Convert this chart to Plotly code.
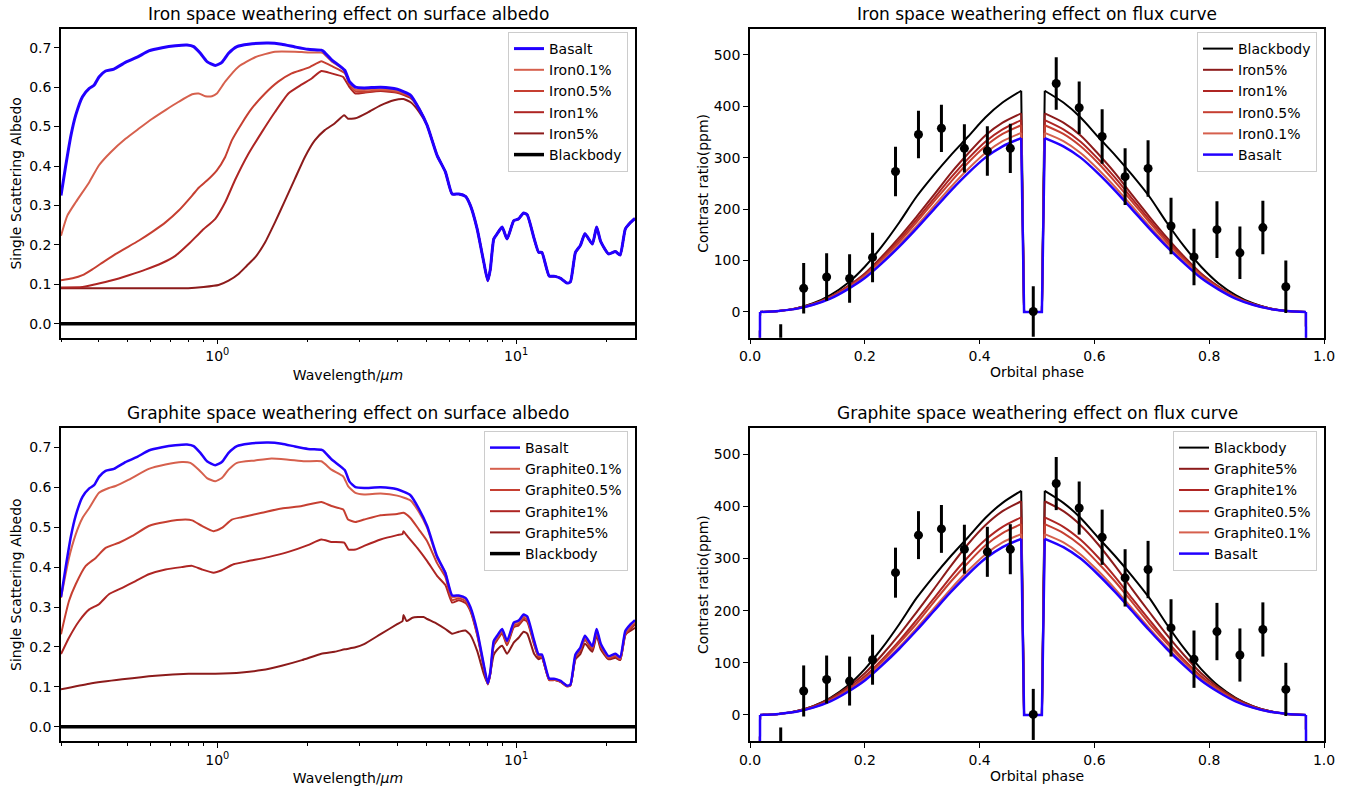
import math
import plotly.graph_objects as go

FONT = "DejaVu Sans"
W, H = 1361, 790

# ---------------- albedo data (wavelength in micron) ----------------
basalt_vis_wl = [0.30, 0.311, 0.324, 0.336, 0.354, 0.373, 0.387, 0.402, 0.423, 0.451, 0.493, 0.540, 0.590,
                 0.654, 0.724, 0.792, 0.834, 0.878, 0.924, 0.985, 1.036, 1.091, 1.164, 1.272, 1.482, 1.643,
                 1.82, 2.01, 2.23, 2.26, 2.41, 2.67, 2.77, 2.90, 3.10, 3.52, 4.00, 4.43, 4.73]
basalt_vis = [0.325, 0.400, 0.478, 0.529, 0.576, 0.597, 0.605, 0.626, 0.641, 0.646, 0.663, 0.676, 0.692,
              0.700, 0.705, 0.707, 0.703, 0.686, 0.665, 0.655, 0.663, 0.686, 0.703, 0.709, 0.712, 0.709,
              0.702, 0.696, 0.694, 0.692, 0.670, 0.643, 0.614, 0.600, 0.598, 0.600, 0.595, 0.580, 0.546]

wl_ir = [5.04, 5.44, 5.80, 6.11, 6.43, 6.77, 7.03, 7.41, 7.80, 8.04, 8.20, 8.42, 8.64, 8.98, 9.33, 9.82,
         10.2, 10.6, 10.9, 11.5, 11.9, 12.2, 12.9, 13.5, 14.1, 14.8, 15.2, 15.8, 16.4, 17.0, 18.0, 18.6,
         19.2, 20.4, 21.5, 22.3, 23.2, 24.1, 25.0]
basalt_ir = [0.503, 0.427, 0.385, 0.329, 0.329, 0.323, 0.300, 0.240, 0.155, 0.109, 0.138, 0.215, 0.228,
             0.245, 0.215, 0.261, 0.266, 0.281, 0.276, 0.215, 0.181, 0.181, 0.121, 0.120, 0.115, 0.103,
             0.106, 0.181, 0.198, 0.228, 0.202, 0.245, 0.208, 0.177, 0.183, 0.174, 0.240, 0.256, 0.267]

iron01_wl = [0.30, 0.315, 0.336, 0.373, 0.402, 0.440, 0.493, 0.547, 0.606, 0.671, 0.743, 0.824, 0.867,
             0.912, 0.960, 0.997, 1.063, 1.178, 1.339, 1.56, 1.82, 2.01, 2.23, 2.26, 2.41, 2.67, 2.77,
             2.90, 3.10, 3.52, 4.00, 4.43, 4.73]
iron01_alb = [0.223, 0.274, 0.308, 0.359, 0.402, 0.435, 0.469, 0.495, 0.520, 0.542, 0.563, 0.582, 0.584,
              0.577, 0.577, 0.584, 0.614, 0.652, 0.676, 0.690, 0.690, 0.688, 0.688, 0.686, 0.666, 0.642,
              0.612, 0.594, 0.593, 0.595, 0.591, 0.578, 0.546]

iron05_wl = [0.30, 0.328, 0.354, 0.382, 0.413, 0.451, 0.493, 0.547, 0.606, 0.671, 0.743, 0.824, 0.867,
             0.924, 0.997, 1.063, 1.119, 1.208, 1.305, 1.445, 1.60, 1.774, 2.01, 2.23, 2.26, 2.41, 2.67,
             2.77, 2.90, 3.10, 3.52, 4.00, 4.43, 4.73]
iron05_alb = [0.110, 0.115, 0.123, 0.138, 0.155, 0.174, 0.191, 0.211, 0.233, 0.257, 0.287, 0.325, 0.345,
              0.363, 0.389, 0.423, 0.465, 0.508, 0.546, 0.584, 0.614, 0.635, 0.649, 0.666, 0.664, 0.654,
              0.636, 0.608, 0.590, 0.588, 0.593, 0.588, 0.576, 0.546]

iron1_wl = [0.30, 0.354, 0.392, 0.445, 0.506, 0.575, 0.654, 0.724, 0.802, 0.889, 0.985, 1.063, 1.148,
            1.272, 1.41, 1.56, 1.73, 1.92, 2.07, 2.23, 2.41, 2.64, 2.67, 2.77, 2.90, 3.10, 3.52, 4.00,
            4.43, 4.73]
iron1_alb = [0.092, 0.093, 0.100, 0.110, 0.123, 0.137, 0.154, 0.172, 0.202, 0.236, 0.266, 0.308, 0.365,
             0.431, 0.486, 0.537, 0.584, 0.607, 0.622, 0.641, 0.635, 0.626, 0.620, 0.600, 0.584, 0.586,
             0.590, 0.586, 0.573, 0.546]

iron5_wl = [0.30, 0.50, 0.80, 0.90, 1.01, 1.091, 1.178, 1.256, 1.339, 1.445, 1.56, 1.685, 1.82, 1.965,
            2.12, 2.29, 2.47, 2.66, 2.74, 2.90, 3.19, 3.52, 3.90, 4.20, 4.45, 4.73]
iron5_alb = [0.090, 0.090, 0.090, 0.093, 0.098, 0.109, 0.126, 0.147, 0.168, 0.206, 0.257, 0.312, 0.368,
             0.423, 0.465, 0.491, 0.508, 0.529, 0.520, 0.521, 0.536, 0.554, 0.567, 0.570, 0.561, 0.538]

gr01_wl = [0.30, 0.319, 0.336, 0.354, 0.373, 0.402, 0.434, 0.457, 0.506, 0.590, 0.671, 0.762, 0.813,
           0.867, 0.924, 0.985, 1.036, 1.091, 1.164, 1.339, 1.52, 1.73, 1.965, 2.23, 2.41, 2.64, 2.74,
           2.90, 3.10, 3.52, 4.00, 4.43, 4.73]
gr01_alb = [0.323, 0.423, 0.482, 0.523, 0.548, 0.586, 0.598, 0.603, 0.619, 0.646, 0.657, 0.663, 0.661,
            0.644, 0.623, 0.615, 0.623, 0.644, 0.661, 0.667, 0.672, 0.669, 0.665, 0.665, 0.644, 0.627,
            0.603, 0.586, 0.582, 0.584, 0.579, 0.567, 0.538]
gr01_ir = [0.498, 0.423, 0.386, 0.325, 0.326, 0.320, 0.297, 0.237, 0.153, 0.108, 0.136, 0.212, 0.225,
           0.242, 0.212, 0.258, 0.263, 0.278, 0.273, 0.212, 0.179, 0.179, 0.120, 0.119, 0.114, 0.102,
           0.105, 0.179, 0.196, 0.225, 0.200, 0.242, 0.206, 0.175, 0.181, 0.172, 0.237, 0.253, 0.264]

gr05_wl = [0.30, 0.319, 0.336, 0.363, 0.392, 0.423, 0.469, 0.520, 0.590, 0.671, 0.782, 0.824, 0.889,
           0.972, 1.036, 1.119, 1.208, 1.41, 1.643, 1.92, 2.23, 2.41, 2.64, 2.74, 2.90, 3.10, 3.52, 4.00,
           4.20, 4.43, 4.73]
gr05_alb = [0.232, 0.315, 0.357, 0.403, 0.423, 0.448, 0.461, 0.478, 0.503, 0.513, 0.519, 0.517, 0.503,
            0.490, 0.498, 0.519, 0.525, 0.536, 0.547, 0.553, 0.563, 0.553, 0.544, 0.519, 0.513, 0.519,
            0.530, 0.533, 0.536, 0.523, 0.494]
gr05_ir = [0.465, 0.410, 0.375, 0.317, 0.322, 0.315, 0.293, 0.233, 0.150, 0.107, 0.134, 0.208, 0.221,
           0.238, 0.208, 0.253, 0.258, 0.273, 0.268, 0.208, 0.176, 0.176, 0.118, 0.118, 0.113, 0.102,
           0.104, 0.176, 0.193, 0.221, 0.196, 0.237, 0.202, 0.172, 0.178, 0.169, 0.232, 0.248, 0.259]

gr1_wl = [0.30, 0.319, 0.345, 0.373, 0.402, 0.434, 0.481, 0.533, 0.590, 0.671, 0.762, 0.824, 0.889,
          0.972, 1.036, 1.134, 1.272, 1.482, 1.73, 2.01, 2.23, 2.41, 2.66, 2.75, 2.90, 3.10, 3.52, 4.00,
          4.17, 4.20, 4.30, 4.67]
gr1_alb = [0.182, 0.223, 0.265, 0.294, 0.307, 0.332, 0.348, 0.365, 0.382, 0.394, 0.400, 0.403, 0.394,
           0.386, 0.392, 0.407, 0.415, 0.425, 0.438, 0.455, 0.469, 0.463, 0.461, 0.444, 0.444, 0.453,
           0.469, 0.480, 0.483, 0.490, 0.480, 0.448]
gr1_ir = [0.415, 0.378, 0.355, 0.311, 0.317, 0.310, 0.290, 0.230, 0.148, 0.106, 0.132, 0.204, 0.217,
          0.234, 0.204, 0.249, 0.254, 0.268, 0.263, 0.205, 0.174, 0.174, 0.117, 0.117, 0.112, 0.101,
          0.103, 0.174, 0.190, 0.218, 0.193, 0.234, 0.199, 0.170, 0.176, 0.167, 0.229, 0.245, 0.256]

gr5_wl = [0.30, 0.373, 0.481, 0.621, 0.802, 0.985, 1.208, 1.41, 1.643, 1.92, 2.23, 2.47, 2.67, 2.90,
          3.10, 3.52, 4.00, 4.17, 4.20, 4.30, 4.50, 4.90]
gr5_alb = [0.094, 0.108, 0.119, 0.128, 0.133, 0.133, 0.136, 0.142, 0.153, 0.167, 0.183, 0.188, 0.194,
           0.199, 0.207, 0.232, 0.257, 0.265, 0.280, 0.265, 0.273, 0.275]
gr5_ir = [0.270, 0.258, 0.245, 0.233, 0.238, 0.241, 0.230, 0.190, 0.132, 0.108, 0.135, 0.180, 0.193,
          0.203, 0.183, 0.211, 0.223, 0.238, 0.233, 0.182, 0.169, 0.173, 0.119, 0.117, 0.113, 0.103,
          0.105, 0.169, 0.182, 0.208, 0.188, 0.229, 0.194, 0.169, 0.173, 0.167, 0.232, 0.240, 0.248]

bb_wl = [0.30, 25.0]
bb_alb = [0.0, 0.0]

# ---------------- flux-curve data (orbital phase, ppm) ----------------
phase_model = [0.0165, 0.0175, 0.05, 0.08, 0.11, 0.14, 0.17, 0.20, 0.23, 0.26, 0.29, 0.32, 0.35, 0.38,
               0.41, 0.44, 0.4725, 0.4775, 0.5085, 0.5135, 0.546, 0.576, 0.606, 0.636, 0.666, 0.696,
               0.726, 0.756, 0.786, 0.816, 0.846, 0.876, 0.906, 0.936, 0.9685, 0.9695]
basalt_flux = [-300, 0, 2, 6, 14, 26, 44, 66, 95, 127, 162, 199, 236, 270, 300, 322, 338, 0,
               0, 338, 322, 300, 270, 236, 199, 162, 127, 95, 66, 44, 26, 14, 6, 2, 0, -300]
bb_flux = [-300, 0, 2, 7, 17, 33, 56, 88, 128, 174, 224, 266, 305, 341, 378, 407, 430, 0,
           0, 430, 407, 378, 341, 305, 266, 224, 174, 128, 88, 56, 33, 17, 7, 2, 0, -300]
iron5_flux = [-300, 0, 2, 7, 16, 30, 50, 75, 108, 145, 185, 227, 270, 308, 343, 368, 386, 0,
              0, 386, 368, 343, 308, 270, 227, 185, 145, 108, 75, 50, 30, 16, 7, 2, 0, -300]
iron1_flux = [-300, 0, 2, 7, 15, 29, 49, 73, 105, 140, 179, 220, 261, 298, 331, 355, 373, 0,
              0, 373, 355, 331, 298, 261, 220, 179, 140, 105, 73, 49, 29, 15, 7, 2, 0, -300]
iron05_flux = [-300, 0, 2, 6, 15, 28, 47, 71, 102, 136, 174, 214, 253, 290, 322, 346, 363, 0,
               0, 363, 346, 322, 290, 253, 214, 174, 136, 102, 71, 47, 28, 15, 6, 2, 0, -300]
iron01_flux = [-300, 0, 2, 6, 14, 27, 45, 68, 98, 131, 167, 205, 243, 278, 309, 332, 348, 0,
               0, 348, 332, 309, 278, 243, 205, 167, 131, 98, 68, 45, 27, 14, 6, 2, 0, -300]
gr5_flux = [-300, 0, 2, 7, 17, 32, 53, 80, 115, 154, 197, 241, 286, 328, 364, 391, 410, 0,
            0, 410, 391, 364, 328, 286, 241, 197, 154, 115, 80, 53, 32, 17, 7, 2, 0, -300]
gr1_flux = [-300, 0, 2, 7, 16, 29, 49, 74, 106, 142, 182, 223, 265, 303, 336, 361, 379, 0,
            0, 379, 361, 336, 303, 265, 223, 182, 142, 106, 74, 49, 29, 16, 7, 2, 0, -300]
gr05_flux = [-300, 0, 2, 6, 15, 28, 48, 71, 103, 138, 175, 216, 256, 292, 325, 349, 366, 0,
             0, 366, 349, 325, 292, 256, 216, 175, 138, 103, 71, 48, 28, 15, 6, 2, 0, -300]
gr01_flux = [-300, 0, 2, 6, 14, 27, 45, 68, 98, 130, 166, 204, 242, 277, 308, 331, 347, 0,
             0, 347, 331, 308, 277, 242, 204, 166, 130, 98, 68, 45, 27, 14, 6, 2, 0, -300]

obs_phase = [0.0535, 0.0935, 0.1335, 0.1735, 0.2135, 0.2535, 0.2935, 0.3335, 0.3735, 0.4135, 0.4535,
             0.4935, 0.5335, 0.5735, 0.6135, 0.6535, 0.6935, 0.7335, 0.7735, 0.8135, 0.8535, 0.8935,
             0.9335]
obs_ppm = [-72, 46, 68, 65, 106, 273, 345, 357, 318, 313, 318, 1, 444, 397, 341, 263, 279, 167, 107,
           160, 115, 164, 49]
obs_err = [48, 49, 46, 47, 48, 48, 46, 46, 47, 48, 48, 49, 51, 51, 53, 55, 55, 55, 55, 55, 51, 52, 51]

# ---------------- tick labels ----------------
log_tick_vals = [1, 10]
log_tick_text = ["10<sup>0</sup>", "10<sup>1</sup>"]
log_minor_vals = [0.3, 0.4, 0.5, 0.6, 0.7, 0.8, 0.9, 2, 3, 4, 5, 6, 7, 8, 9, 20]

titles = ["Iron space weathering effect on surface albedo",
          "Iron space weathering effect on flux curve",
          "Graphite space weathering effect on surface albedo",
          "Graphite space weathering effect on flux curve"]

# ---------------- styles ----------------
C_BASALT = "#2200ff"
C_01 = "#d6604d"
C_05 = "#c63f31"
C_1 = "#ae2523"
C_5 = "#8c1b1b"
C_BB = "#000000"

XL = [61 / W, 635 / W]
XR = [750 / W, 1324 / W]
YT = [1 - 337.7 / H, 1 - 29 / H]
YB = [1 - 741 / H, 1 - 428.3 / H]

fig = go.Figure()


def line(x, y, name, color, width, xa, ya, leg, rank, smooth=True):
    shape = dict(shape="spline", smoothing=0.5) if smooth else {}
    fig.add_trace(go.Scatter(x=x, y=y, name=name, mode="lines",
                             line=dict(color=color, width=width, **shape),
                             xaxis=xa, yaxis=ya, legend=leg, legendrank=rank))


def flux(y, name, color, width, xa, ya, leg, rank):
    """Phase curve: smooth rise, sharp transit/eclipse edges, smooth decline."""
    grp = f"{leg}-{name}"
    rise = slice(1, 17)
    fall = slice(19, 35)
    fig.add_trace(go.Scatter(x=phase_model[rise], y=y[rise], name=name, mode="lines",
                             line=dict(color=color, width=width, shape="spline", smoothing=0.8),
                             xaxis=xa, yaxis=ya, legend=leg, legendrank=rank, legendgroup=grp))
    edges_x = phase_model[0:2] + [None] + phase_model[16:20] + [None] + phase_model[34:36]
    edges_y = y[0:2] + [None] + y[16:20] + [None] + y[34:36]
    fig.add_trace(go.Scatter(x=edges_x, y=edges_y, name=name, mode="lines", showlegend=False,
                             line=dict(color=color, width=width), connectgaps=False,
                             xaxis=xa, yaxis=ya, legend=leg, legendgroup=grp))
    fig.add_trace(go.Scatter(x=phase_model[fall], y=y[fall], name=name, mode="lines", showlegend=False,
                             line=dict(color=color, width=width, shape="spline", smoothing=0.8),
                             xaxis=xa, yaxis=ya, legend=leg, legendgroup=grp))


# --- top-left: iron albedo (reds first, basalt on top)
line(iron5_wl + wl_ir, iron5_alb + basalt_ir, "Iron5%", C_5, 2, "x", "y", "legend", 5)
line(iron1_wl + wl_ir, iron1_alb + basalt_ir, "Iron1%", C_1, 2, "x", "y", "legend", 4)
line(iron05_wl + wl_ir, iron05_alb + basalt_ir, "Iron0.5%", C_05, 2, "x", "y", "legend", 3)
line(iron01_wl + wl_ir, iron01_alb + basalt_ir, "Iron0.1%", C_01, 2, "x", "y", "legend", 2)
line(bb_wl, bb_alb, "Blackbody", C_BB, 3.5, "x", "y", "legend", 6, smooth=False)
line(basalt_vis_wl + wl_ir, basalt_vis + basalt_ir, "Basalt", C_BASALT, 3, "x", "y", "legend", 1)

# --- bottom-left: graphite albedo
line(gr5_wl + wl_ir, gr5_alb + gr5_ir, "Graphite5%", C_5, 2, "x3", "y3", "legend3", 5)
line(gr1_wl + wl_ir, gr1_alb + gr1_ir, "Graphite1%", C_1, 2, "x3", "y3", "legend3", 4)
line(gr05_wl + wl_ir, gr05_alb + gr05_ir, "Graphite0.5%", C_05, 2, "x3", "y3", "legend3", 3)
line(gr01_wl + wl_ir, gr01_alb + gr01_ir, "Graphite0.1%", C_01, 2, "x3", "y3", "legend3", 2)
line(bb_wl, bb_alb, "Blackbody", C_BB, 3.5, "x3", "y3", "legend3", 6, smooth=False)
line(basalt_vis_wl + wl_ir, basalt_vis + basalt_ir, "Basalt", C_BASALT, 2.5, "x3", "y3", "legend3", 1)

# --- top-right: iron flux curves
flux(bb_flux, "Blackbody", C_BB, 2, "x2", "y2", "legend2", 1)
flux(iron5_flux, "Iron5%", C_5, 2, "x2", "y2", "legend2", 2)
flux(iron1_flux, "Iron1%", C_1, 2, "x2", "y2", "legend2", 3)
flux(iron05_flux, "Iron0.5%", C_05, 2, "x2", "y2", "legend2", 4)
flux(iron01_flux, "Iron0.1%", C_01, 2, "x2", "y2", "legend2", 5)
flux(basalt_flux, "Basalt", C_BASALT, 2.5, "x2", "y2", "legend2", 6)

# --- bottom-right: graphite flux curves
flux(bb_flux, "Blackbody", C_BB, 2, "x4", "y4", "legend4", 1)
flux(gr5_flux, "Graphite5%", C_5, 2, "x4", "y4", "legend4", 2)
flux(gr1_flux, "Graphite1%", C_1, 2, "x4", "y4", "legend4", 3)
flux(gr05_flux, "Graphite0.5%", C_05, 2, "x4", "y4", "legend4", 4)
flux(gr01_flux, "Graphite0.1%", C_01, 2, "x4", "y4", "legend4", 5)
flux(basalt_flux, "Basalt", C_BASALT, 2.5, "x4", "y4", "legend4", 6)

for xa, ya in [("x2", "y2"), ("x4", "y4")]:
    fig.add_trace(go.Scatter(x=obs_phase, y=obs_ppm, mode="markers", showlegend=False,
                             marker=dict(color="black", size=9),
                             error_y=dict(type="data", array=obs_err, visible=True,
                                          thickness=3, width=0, color="black"),
                             xaxis=xa, yaxis=ya))

tickfont = dict(family=FONT, size=14, color="black")
common = dict(showline=True, mirror=True, linecolor="black", linewidth=1.5, ticks="outside",
              ticklen=5, tickwidth=1.2, tickcolor="black", showgrid=False, zeroline=False,
              automargin=False, tickfont=tickfont,
              title_font=dict(family=FONT, size=14, color="black"))

logx = dict(type="log", range=[math.log10(0.3), math.log10(25)], tickmode="array",
            tickvals=log_tick_vals, ticktext=log_tick_text,
            minor=dict(tickmode="array", tickvals=log_minor_vals, ticks="outside", ticklen=3,
                       tickwidth=1, tickcolor="black", showgrid=False),
            title=dict(text="Wavelength/<i>μm</i>", standoff=7), **common)
albedo_y = dict(range=[-0.0356, 0.7476], dtick=0.1, tick0=0, tickformat=".1f",
                title=dict(text="Single Scattering Albedo", standoff=4), **common)
phase_x = dict(range=[0, 1], dtick=0.2, tick0=0, tickformat=".1f",
               title=dict(text="Orbital phase", standoff=4), **common)
flux_y = dict(range=[-50, 550], dtick=100, tick0=0,
              title=dict(text="Contrast ratio(ppm)", standoff=2), **common)

legend_common = dict(xanchor="right", yanchor="top", bgcolor="rgba(255,255,255,0.8)",
                     bordercolor="#cccccc", borderwidth=1, tracegroupgap=0, itemwidth=30,
                     font=dict(family=FONT, size=14, color="black"))

fig.update_layout(
    width=W, height=H, autosize=False,
    margin=dict(l=0, r=0, t=0, b=0, autoexpand=False),
    paper_bgcolor="white", plot_bgcolor="white",
    font=dict(family=FONT, size=14, color="black"),
    xaxis=dict(domain=XL, anchor="y", **logx),
    yaxis=dict(domain=YT, anchor="x", **albedo_y),
    xaxis2=dict(domain=XR, anchor="y2", **phase_x),
    yaxis2=dict(domain=YT, anchor="x2", **flux_y),
    xaxis3=dict(domain=XL, anchor="y3", **logx),
    yaxis3=dict(domain=YB, anchor="x3", **albedo_y),
    xaxis4=dict(domain=XR, anchor="y4", **phase_x),
    yaxis4=dict(domain=YB, anchor="x4", **flux_y),
    legend=dict(x=628 / W, y=1 - 32 / H, **legend_common),
    legend2=dict(x=1317 / W, y=1 - 32 / H, **legend_common),
    legend3=dict(x=628 / W, y=1 - 431 / H, **legend_common),
    legend4=dict(x=1317 / W, y=1 - 431 / H, **legend_common),
)

for i, (dom_x, dom_y) in enumerate([(XL, YT), (XR, YT), (XL, YB), (XR, YB)]):
    fig.add_annotation(text=titles[i], xref="paper", yref="paper",
                       x=(dom_x[0] + dom_x[1]) / 2, y=dom_y[1], xanchor="center", yanchor="bottom",
                       yshift=3, showarrow=False, font=dict(family=FONT, size=17, color="black"))

fig.write_html("out.html", config={"displayModeBar": False},
               post_script="document.body.style.margin='0';")
